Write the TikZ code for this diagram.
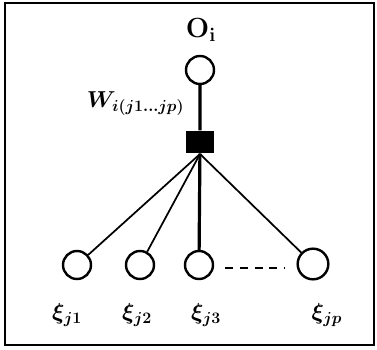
\documentclass[tikz,border=0pt]{standalone}
\usetikzlibrary{shapes.geometric,calc}
\begin{document}
\begin{tikzpicture}[x=0.75pt,y=-0.75pt,
  unit/.style={circle,draw,line width=1.8pt,minimum size=21pt,inner sep=0pt},
  junction/.style={rectangle,fill=black,minimum width=21pt,minimum height=17pt,inner sep=0pt},
  lbl/.style={font=\fontsize{17}{19}\selectfont\boldmath},
  thin link/.style={line width=1.3pt},
  thick link/.style={line width=2.4pt}]
\useasboundingbox (0,0) rectangle (377,349);
\draw[line width=1.3pt] (5,3) rectangle (374,345);
\node[font=\fontsize{20}{22}\selectfont\boldmath] (oi) at (201,30) {$\mathrm{O}_{\mathrm{i}}$};
\node[unit] (top) at (200,70) {};
\node[junction] (sq) at (200,142) {};
\node[lbl,anchor=east] (w) at (189,104) {$W_{i(j1\ldots jp)}$};
\node[unit] (c1) at (77,265) {};
\node[unit] (c2) at (140,265) {};
\node[unit] (c3) at (199,265) {};
\node[unit,minimum size=23pt] (c4) at (313,264) {};
\coordinate (hub) at (200,154);
\draw[thick link] (top) -- (sq) -- (c3);
\draw[thin link] (hub) -- (c1);
\draw[thin link] (hub) -- (c2);
\draw[thin link] (hub) -- (c4);
\coordinate (d1) at ($(c3.east)+(11,3)$);
\coordinate (d2) at ($(c4.west)+(-12,4)$);
\draw[line width=1.3pt,dash pattern=on 6pt off 5pt] (d1) -- (d2);
\node[lbl] (x1) at (67,315) {$\xi_{j1}$};
\node[lbl] (x2) at (137,315) {$\xi_{j2}$};
\node[lbl] (x3) at (206,315) {$\xi_{j3}$};
\node[lbl] (x4) at (327,315) {$\xi_{jp}$};
\end{tikzpicture}
\end{document}
